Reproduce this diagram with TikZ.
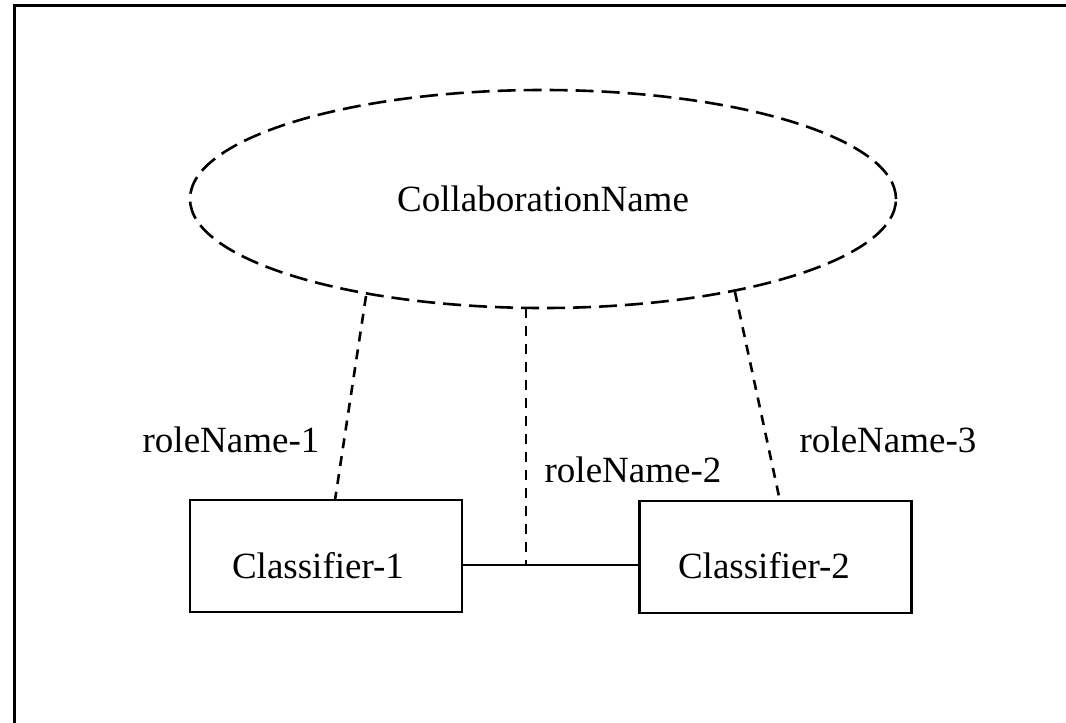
\documentclass[tikz,border=0pt]{standalone}
\usepackage{fontspec}
\setmainfont{Liberation Serif}
\usetikzlibrary{shapes.geometric}
\begin{document}
\begin{tikzpicture}[x=1pt,y=-1pt,
  frameline/.style={line width=3pt},
  dashline/.style={line width=2.6pt,dash pattern=on 10pt off 8pt},
  ovaldash/.style={line width=2.6pt,dash pattern=on 18pt off 8pt},
  solidline/.style={line width=2.4pt},
  box/.style={draw,line width=2.4pt,rectangle,minimum width=272pt,minimum height=112pt,inner sep=0pt},
  lbl/.style={font=\fontsize{37}{40}\selectfont,inner sep=0pt}]
\useasboundingbox (0,0) rectangle (1066,723);
\draw[frameline] (14.5,723) -- (14.5,5.5) -- (1066,5.5);
\node[ellipse,draw,ovaldash,minimum width=706pt,minimum height=218pt,inner sep=0pt] (collab) at (543,199) {};
\node[lbl] (ct) at (543,199) {CollaborationName};
\node[box] (c1) at (326,556) {};
\node[lbl] (c1t) at (318,566) {Classifier-1};
\node[box] (c2) at (775.5,557) {};
\node[lbl] (c2t) at (764,566) {Classifier-2};
\coordinate (e1) at (366,296);
\coordinate (b1) at (335,500);
\coordinate (e2) at (526,308);
\coordinate (m) at (526,565);
\coordinate (e3) at (735,292);
\coordinate (b3) at (780,501);
\draw[dashline] (e1) -- (b1);
\draw[dashline] (e2) -- (m);
\draw[dashline] (e3) -- (b3);
\draw[solidline] (c1.east |- m) -- (c2.west |- m);
\node[lbl] (r1) at (231,440) {roleName-1};
\node[lbl] (r2) at (633,470) {roleName-2};
\node[lbl] (r3) at (888,440) {roleName-3};
\end{tikzpicture}
\end{document}
